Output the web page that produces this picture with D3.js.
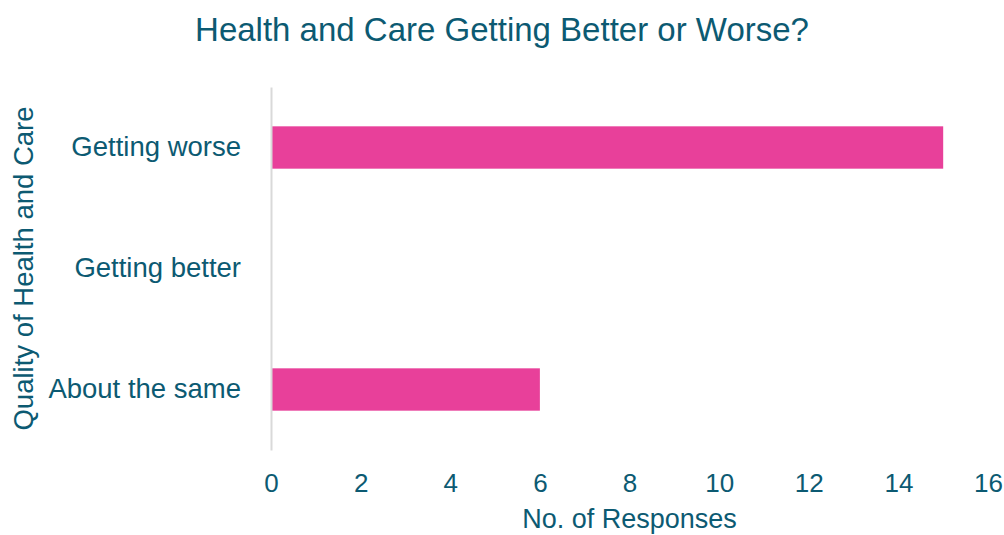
<!DOCTYPE html>
<html>
<head>
<meta charset="utf-8">
<script src="https://cdn.jsdelivr.net/npm/d3@7"></script>
<style>
  body { margin: 0; background: #fff; }
  svg { display: block; font-family: "Liberation Sans", Arial, sans-serif; }
</style>
</head>
<body>
<script>
// categories top to bottom, as in the chart
const categories = ["Getting worse", "Getting better", "About the same"];
const responses = [15, 0, 6];
const xTicks = [0, 2, 4, 6, 8, 10, 12, 14, 16];

const width = 1004, height = 535;
const margin = { top: 87, right: 16, bottom: 85, left: 271 };
const textColor = "#0c5a72";
const barColor = "#e8409a";

const svg = d3.select("body").append("svg")
  .attr("width", width)
  .attr("height", height);

const x = d3.scaleLinear()
  .domain([0, 16])
  .range([margin.left, width - margin.right]);

const y = d3.scaleBand()
  .domain(categories)
  .range([margin.top, height - margin.bottom])
  .paddingInner(0.65)
  .paddingOuter(0.325);

// title
svg.append("text")
  .attr("x", 502)
  .attr("y", 41)
  .attr("text-anchor", "middle")
  .attr("fill", textColor)
  .style("font-size", "33px")
  .text("Health and Care Getting Better or Worse?");

// bars
svg.append("g")
  .selectAll("rect")
  .data(categories.map((c, i) => ({ cat: c, value: responses[i] })))
  .join("rect")
  .attr("x", x(0))
  .attr("y", d => y(d.cat))
  .attr("width", d => x(d.value) - x(0))
  .attr("height", y.bandwidth())
  .attr("fill", barColor);

// x axis (labels only)
const xAxis = svg.append("g")
  .attr("transform", `translate(0,${height - margin.bottom})`)
  .call(d3.axisBottom(x).tickValues(xTicks).tickSize(0).tickPadding(24));
xAxis.select(".domain").remove();
xAxis.selectAll("text")
  .attr("fill", textColor)
  .style("font-size", "26px")
  .style("font-family", "'Liberation Sans', Arial, sans-serif");

// y axis
const yAxis = svg.append("g")
  .attr("transform", `translate(${margin.left},0)`)
  .call(d3.axisLeft(y).tickSize(0).tickPadding(30));
yAxis.select(".domain")
  .attr("stroke", "#d9d9d9")
  .attr("stroke-width", 2);
yAxis.selectAll("text")
  .attr("fill", textColor)
  .style("font-size", "27.5px")
  .style("font-family", "'Liberation Sans', Arial, sans-serif");

// axis titles
svg.append("text")
  .attr("x", x(8))
  .attr("y", 528)
  .attr("text-anchor", "middle")
  .attr("fill", textColor)
  .style("font-size", "27px")
  .text("No. of Responses");

svg.append("text")
  .attr("transform", `translate(33,${(margin.top + height - margin.bottom) / 2}) rotate(-90)`)
  .attr("text-anchor", "middle")
  .attr("fill", textColor)
  .style("font-size", "27.5px")
  .text("Quality of Health and Care");
</script>
</body>
</html>
